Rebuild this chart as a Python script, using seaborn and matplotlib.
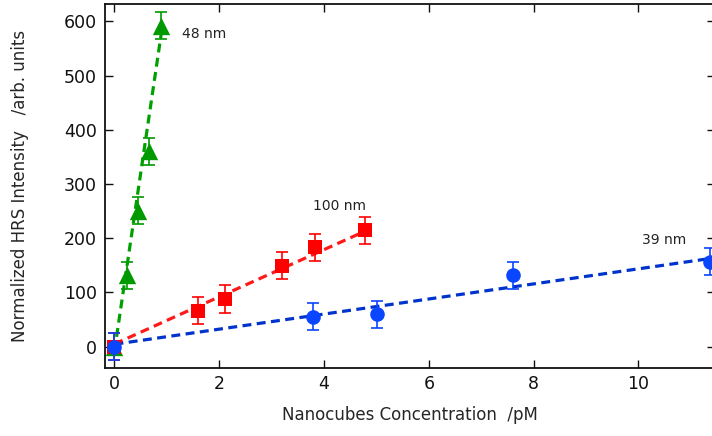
import numpy as np
import pandas as pd
import matplotlib
matplotlib.use("Agg")
import matplotlib.pyplot as plt
import seaborn as sns

# ---- data ----
x_48 = [0.0, 0.23, 0.45, 0.66, 0.89]
y_48 = [0.0, 132, 251, 360, 592]
e_48 = [25, 25, 25, 25, 25]

x_100 = [0.0, 1.60, 2.11, 3.19, 3.83, 4.79]
y_100 = [0.0, 66, 88, 149, 183, 215]
e_100 = [25, 25, 25, 25, 25, 25]

x_39 = [0.0, 3.79, 5.01, 7.60, 11.36]
y_39 = [0.0, 55, 60, 132, 157]
e_39 = [25, 25, 25, 25, 25]

# linear fits: slope, intercept, fitted x range
fit_48 = dict(slope=655.0, intercept=-8.0, xmin=0.0, xmax=0.92)
fit_100 = dict(slope=43.5, intercept=5.0, xmin=0.0, xmax=4.8)
fit_39 = dict(slope=13.9, intercept=4.6, xmin=0.0, xmax=11.5)

labels = ["48 nm", "100 nm", "39 nm"]
label_pos = [(1.29, 577), (3.79, 260), (10.07, 196)]

x_ticks = [0, 2, 4, 6, 8, 10]
y_ticks = [0, 100, 200, 300, 400, 500, 600]

# ---- style ----
sns.set_style("ticks")
plt.rcParams['font.family'] = ['DejaVu Sans']

fig = plt.figure(figsize=(7.12, 4.36), dpi=100)
ax = fig.add_axes([0.1475, 0.155, 0.8573, 0.836])

series = [
    (x_48, y_48, e_48, fit_48, '#009a00', '#00a000', '^', 12.5),
    (x_100, y_100, e_100, fit_100, '#ff0000', '#ff1a1a', 's', 10),
    (x_39, y_39, e_39, fit_39, '#0a46ff', '#0033cc', 'o', 10.5),
]

for i, (xs, ys, es, fit, mc, lc, mk, ms) in enumerate(series):
    xf = np.array([fit['xmin'], fit['xmax']])
    yf = fit['slope'] * xf + fit['intercept']
    sns.lineplot(x=xf, y=yf, ax=ax, color=lc, linewidth=2.3,
                 linestyle=(0, (2.8, 1.7)), zorder=2 + i)
    ax.errorbar(xs, ys, yerr=es, fmt='none', ecolor=mc, elinewidth=1.2,
                capsize=4.5, capthick=1.2, zorder=3 + i)
    df = pd.DataFrame({'x': xs, 'y': ys})
    sns.scatterplot(data=df, x='x', y='y', ax=ax, color=mc, marker=mk,
                    s=ms ** 2, edgecolor=mc, linewidth=0, zorder=4 + i,
                    clip_on=True)

for lab, (lx, ly) in zip(labels, label_pos):
    ax.text(lx, ly, lab, fontsize=10, color='#222222', va='center', ha='left')

ax.set_xlim(-0.18, 11.47)
ax.set_ylim(-40, 632)
ax.set_xticks(x_ticks)
ax.set_yticks(y_ticks)
ax.tick_params(direction='in', length=6, width=1.0, labelsize=12.5,
               top=True, right=True, colors='#111111')
ax.tick_params(axis='x', pad=5)
ax.tick_params(axis='y', pad=6)
for s in ax.spines.values():
    s.set_linewidth(1.3)
    s.set_color('#111111')

ax.set_xlabel("Nanocubes Concentration  /pM", fontsize=12, labelpad=9)
ax.set_ylabel("Normalized HRS Intensity   /arb. units", fontsize=12, labelpad=25)

fig.savefig("out.png", dpi=100)
